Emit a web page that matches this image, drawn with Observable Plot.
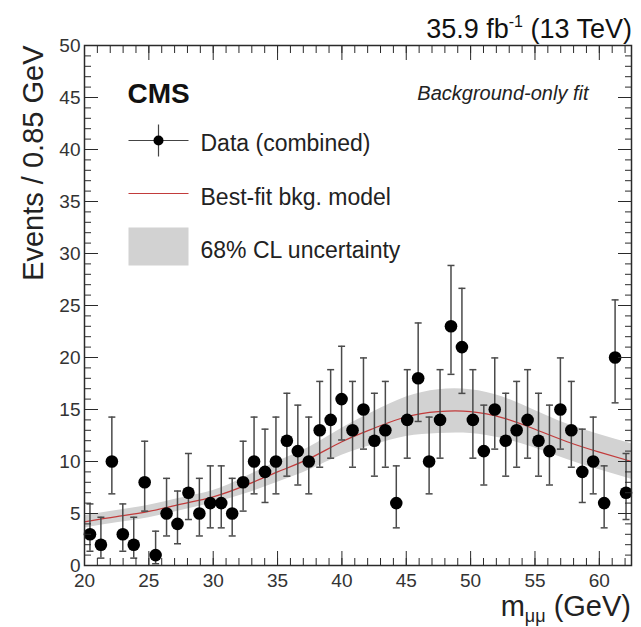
<!DOCTYPE html>
<html><head><meta charset="utf-8">
<script src="https://cdn.jsdelivr.net/npm/d3@7"></script>
<script src="https://cdn.jsdelivr.net/npm/@observablehq/plot@0.6"></script>
<style>
body{margin:0;background:#fff;}
#chart{position:relative;width:641px;height:627px;}
</style></head><body><div id="chart"></div>
<script>
// ---- data ----
const binCenters = [20.425, 21.275, 22.125, 22.975, 23.825, 24.675, 25.525, 26.375, 27.225, 28.075,
  28.925, 29.775, 30.625, 31.475, 32.325, 33.175, 34.025, 34.875, 35.725, 36.575,
  37.425, 38.275, 39.125, 39.975, 40.825, 41.675, 42.525, 43.375, 44.225, 45.075,
  45.925, 46.775, 47.625, 48.475, 49.325, 50.175, 51.025, 51.875, 52.725, 53.575,
  54.425, 55.275, 56.125, 56.975, 57.825, 58.675, 59.525, 60.375, 61.225, 62.075];
const counts = [3, 2, 10, 3, 2, 8, 1, 5, 4, 7,
  5, 6, 6, 5, 8, 10, 9, 10, 12, 11,
  10, 13, 14, 16, 13, 15, 12, 13, 6, 14,
  18, 10, 14, 23, 21, 14, 11, 15, 12, 13,
  14, 12, 11, 15, 13, 9, 10, 6, 20, 7];
const errLow = [1.37, 0.71, 6.89, 1.37, 0.71, 5.23, 0.17, 2.84, 2.09, 4.42,
  2.84, 3.62, 3.62, 2.84, 5.23, 6.89, 6.06, 6.89, 8.59, 7.74,
  6.89, 9.45, 10.32, 12.07, 9.45, 11.19, 8.59, 9.45, 3.62, 10.32,
  13.85, 6.89, 10.32, 18.38, 16.55, 10.32, 7.74, 11.19, 8.59, 9.45,
  10.32, 8.59, 7.74, 11.19, 9.45, 6.06, 6.89, 3.62, 15.64, 4.42];
const errHigh = [5.92, 4.64, 14.27, 5.92, 4.64, 11.95, 3.30, 8.38, 7.16, 10.77,
  8.38, 9.58, 9.58, 8.38, 11.95, 14.27, 13.11, 14.27, 16.56, 15.42,
  14.27, 17.70, 18.83, 21.08, 17.70, 19.96, 16.56, 17.70, 9.58, 18.83,
  23.32, 14.27, 18.83, 28.85, 26.65, 18.83, 15.42, 19.96, 16.56, 17.70,
  18.83, 16.56, 15.42, 19.96, 17.70, 13.11, 14.27, 9.58, 25.54, 10.77];
const fitX     = [20, 22.5, 25, 27.5, 30, 32.5, 35, 37.5, 40, 42.5, 45, 47.5, 50, 52.5, 55, 57.5, 60, 62.5];
const fitY     = [4.2, 4.7, 5.2, 5.9, 6.6, 7.7, 9.0, 10.3, 11.9, 13.2, 14.3, 14.8, 14.8, 14.2, 13.1, 11.9, 10.9, 10.0];
const bandLow  = [3.6, 4.1, 4.6, 5.3, 6.0, 6.9, 8.0, 9.2, 10.6, 11.6, 12.4, 12.7, 12.7, 12.2, 11.3, 10.2, 9.2, 8.3];
const bandHigh = [4.8, 5.3, 5.8, 6.5, 7.2, 8.5, 10.0, 11.4, 13.2, 14.8, 16.2, 16.9, 16.9, 16.2, 14.9, 13.6, 12.6, 11.7];
const xMajorTicks = [20, 25, 30, 35, 40, 45, 50, 55, 60];
const xMinorTicks = [20,21,22,23,24,25,26,27,28,29,30,31,32,33,34,35,36,37,38,39,40,41,42,43,44,45,46,47,48,49,50,51,52,53,54,55,56,57,58,59,60,61,62];
const yMajorTicks = [0, 5, 10, 15, 20, 25, 30, 35, 40, 45, 50];
const yMinorTicks = d3.range(0, 51, 1);
const legendLabels = ["Data (combined)", "Best-fit bkg. model", "68% CL uncertainty"];

// ---- tables ----
const points = binCenters.map((x, i) => ({x, n: counts[i], lo: errLow[i], hi: errHigh[i]}));
const fit = fitX.map((x, i) => ({x, y: fitY[i], lo: bandLow[i], hi: bandHigh[i]}));

// symbols: size = pi r^2, so L = r
const hSym = {draw(ctx, size) { const L = Math.sqrt(size / Math.PI); ctx.moveTo(-L, 0); ctx.lineTo(L, 0); }};
const vSym = {draw(ctx, size) { const L = Math.sqrt(size / Math.PI); ctx.moveTo(0, -L); ctx.lineTo(0, L); }};
const boxSym = {draw(ctx, size) { const L = Math.sqrt(size / Math.PI); ctx.rect(-L, -L * 0.633, 2 * L, 1.266 * L); }};

const ink = "#2a2a2a";
const bandColor = "#d2d2d2";
const lineColor = "#c23b3b";
const errColor = "#4a4a4a";
const font = "Liberation Sans, Arial, Helvetica, sans-serif";
const blank = () => "";

const chart = Plot.plot({
  width: 641, height: 627,
  marginLeft: 84, marginRight: 10, marginTop: 45, marginBottom: 62,
  x: {domain: [20, 62.5]},
  y: {domain: [0, 50]},
  style: {fontFamily: font, background: "white", overflow: "visible", color: ink},
  marks: [
    Plot.areaY(fit, {x: "x", y1: "lo", y2: "hi", fill: bandColor, curve: "natural"}),
    Plot.lineY(fit, {x: "x", y: "y", stroke: lineColor, strokeWidth: 1.2, curve: "natural"}),
    Plot.ruleX(points, {x: "x", y1: "lo", y2: "hi", stroke: errColor, strokeWidth: 1.5}),
    Plot.dot(points, {x: "x", y: "lo", symbol: hSym, r: 3.5, fill: "none", stroke: errColor, strokeWidth: 1.5}),
    Plot.dot(points, {x: "x", y: "hi", symbol: hSym, r: 3.5, fill: "none", stroke: errColor, strokeWidth: 1.5}),
    Plot.dot(points, {x: "x", y: "n", r: 6.3, fill: "black", stroke: "none"}),
    // axes: inward ticks on all four sides
    Plot.axisX({ticks: xMinorTicks, tickSize: -7, tickFormat: blank, label: null, stroke: ink}),
    Plot.axisX({ticks: xMajorTicks, tickSize: -14, tickFormat: blank, label: null, stroke: ink}),
    Plot.axisX({anchor: "top", ticks: xMinorTicks, tickSize: -7, tickFormat: blank, label: null, stroke: ink}),
    Plot.axisX({anchor: "top", ticks: xMajorTicks, tickSize: -14, tickFormat: blank, label: null, stroke: ink}),
    Plot.axisX({ticks: xMajorTicks, tickSize: 0, tickPadding: 8, fontSize: 19, label: null, fill: "#333"}),
    Plot.axisY({ticks: yMinorTicks, tickSize: -7, tickFormat: blank, label: null, stroke: ink}),
    Plot.axisY({ticks: yMajorTicks, tickSize: -14, tickFormat: blank, label: null, stroke: ink}),
    Plot.axisY({anchor: "right", ticks: yMinorTicks, tickSize: -7, tickFormat: blank, label: null, stroke: ink}),
    Plot.axisY({anchor: "right", ticks: yMajorTicks, tickSize: -14, tickFormat: blank, label: null, stroke: ink}),
    Plot.axisY({ticks: yMajorTicks, tickSize: 0, tickPadding: 4, fontSize: 19, label: null, fill: "#333"}),
    Plot.frame({stroke: ink, strokeWidth: 1.5}),
    // y label
    Plot.text(["Events / 0.85 GeV"], {frameAnchor: "top-left", rotate: -90, textAnchor: "end", lineAnchor: "middle", dx: -51, dy: 0, fontSize: 29, fill: "#222"}),
    // CMS + annotation
    Plot.text(["CMS"], {frameAnchor: "top-left", dx: 43, dy: 57, textAnchor: "start", lineAnchor: "bottom", fontSize: 28, fontWeight: "bold", fill: "#111"}),
    Plot.text(["Background-only fit"], {frameAnchor: "top-right", dx: -43, dy: 48, textAnchor: "end", lineAnchor: "middle", fontSize: 20, fontStyle: "italic", fill: "#222"}),
    // legend
    Plot.dot([0], {frameAnchor: "top-left", dx: 74, dy: 95, symbol: hSym, r: 30, fill: "none", stroke: "#444", strokeWidth: 1.2}),
    Plot.dot([0], {frameAnchor: "top-left", dx: 74, dy: 95, symbol: vSym, r: 16, fill: "none", stroke: "#444", strokeWidth: 1.2}),
    Plot.dot([0], {frameAnchor: "top-left", dx: 74, dy: 95, r: 5, fill: "black"}),
    Plot.dot([0], {frameAnchor: "top-left", dx: 74, dy: 148, symbol: hSym, r: 30, fill: "none", stroke: lineColor, strokeWidth: 1.2}),
    Plot.dot([0], {frameAnchor: "top-left", dx: 74, dy: 201, symbol: boxSym, r: 30, fill: bandColor, stroke: "none"}),
    Plot.text([legendLabels[0]], {frameAnchor: "top-left", dx: 116, dy: 98, textAnchor: "start", lineAnchor: "middle", fontSize: 23, fill: "#222"}),
    Plot.text([legendLabels[1]], {frameAnchor: "top-left", dx: 116, dy: 152, textAnchor: "start", lineAnchor: "middle", fontSize: 23, fill: "#222"}),
    Plot.text([legendLabels[2]], {frameAnchor: "top-left", dx: 116, dy: 205, textAnchor: "start", lineAnchor: "middle", fontSize: 23, fill: "#222"})
  ]
});
document.getElementById("chart").appendChild(chart);

// header with superscript, x label with subscript (real text)
const svg = d3.select(chart);
const head = svg.append("text").attr("x", 632).attr("y", 38).attr("text-anchor", "end")
  .attr("font-family", font).attr("font-size", 27).attr("fill", "#111");
head.append("tspan").text("35.9 fb");
head.append("tspan").attr("font-size", 16).attr("dy", -11).text("-1");
head.append("tspan").attr("dy", 11).text(" (13 TeV)");

const xl = svg.append("text").attr("x", 631).attr("y", 616).attr("text-anchor", "end")
  .attr("font-family", font).attr("font-size", 29).attr("fill", "#222");
xl.append("tspan").text("m");
xl.append("tspan").attr("font-size", 18).attr("dy", 6).text("μμ");
xl.append("tspan").attr("dy", -6).text(" (GeV)");
</script></body></html>
